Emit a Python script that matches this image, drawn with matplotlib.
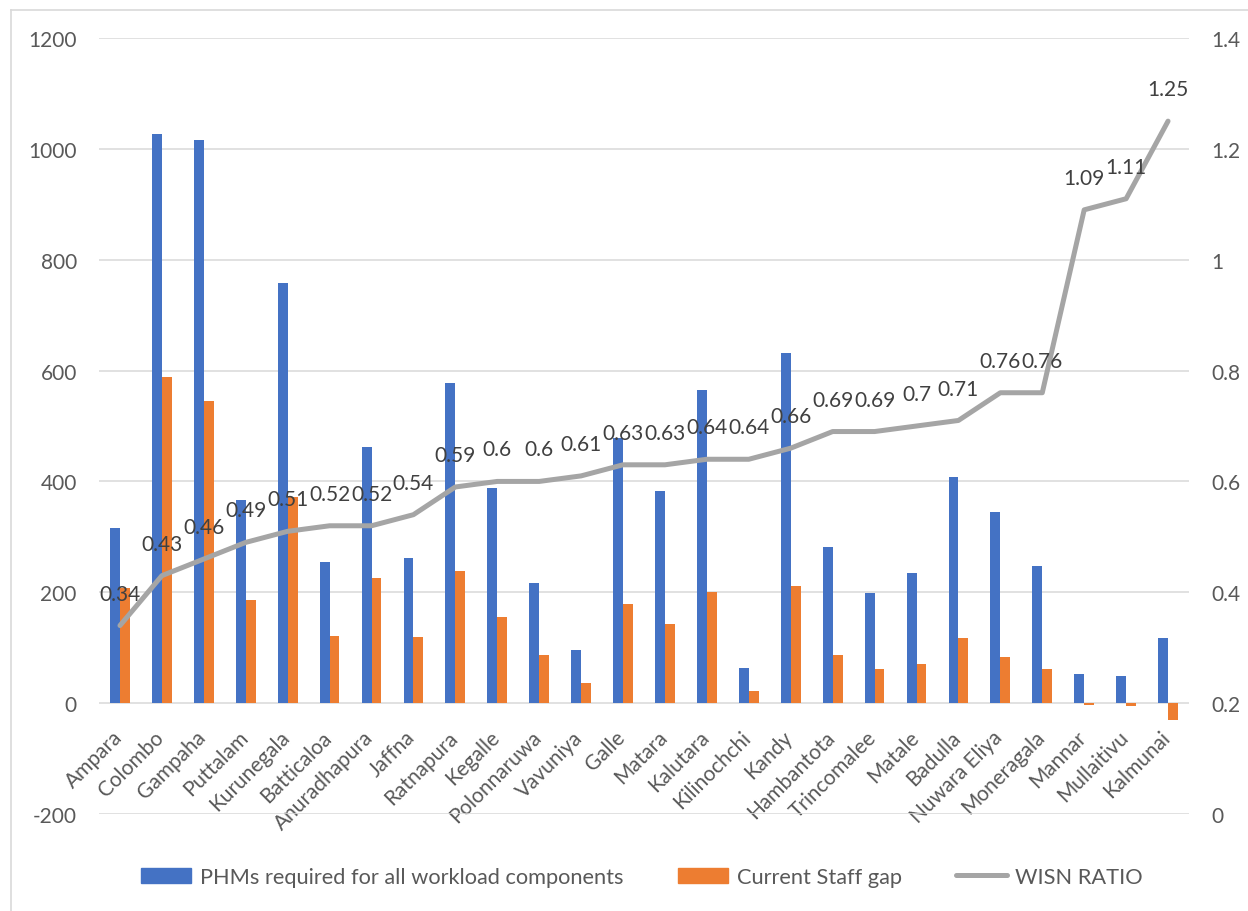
import matplotlib
matplotlib.use("Agg")
import matplotlib.pyplot as plt
from matplotlib.patches import Patch
from matplotlib.lines import Line2D
from matplotlib.transforms import ScaledTranslation
import numpy as np

districts = ["Ampara", "Colombo", "Gampaha", "Puttalam", "Kurunegala", "Batticaloa",
             "Anuradhapura", "Jaffna", "Ratnapura", "Kegalle", "Polonnaruwa", "Vavuniya",
             "Galle", "Matara", "Kalutara", "Kilinochchi", "Kandy", "Hambantota",
             "Trincomalee", "Matale", "Badulla", "Nuwara Eliya", "Moneragala", "Mannar",
             "Mullaitivu", "Kalmunai"]
phms_required = [316, 1026, 1016, 366, 758, 255, 463, 262, 578, 389, 217, 95,
                 479, 382, 565, 64, 631, 281, 199, 235, 408, 344, 248, 53, 49, 117]
staff_gap = [208, 589, 545, 186, 372, 122, 225, 120, 238, 156, 87, 36,
             178, 142, 201, 22, 211, 87, 62, 71, 117, 83, 61, -4, -5, -30]
wisn_ratio = [0.34, 0.43, 0.46, 0.49, 0.51, 0.52, 0.52, 0.54, 0.59, 0.6, 0.6, 0.61,
              0.63, 0.63, 0.64, 0.64, 0.66, 0.69, 0.69, 0.7, 0.71, 0.76, 0.76,
              1.09, 1.11, 1.25]
left_ticks = [-200, 0, 200, 400, 600, 800, 1000, 1200]
right_ticks = [0, 0.2, 0.4, 0.6, 0.8, 1.0, 1.2, 1.4]

plt.rcParams['font.family'] = ['Lato', 'DejaVu Sans']
FS = 15
BLUE = '#4472C4'
ORANGE = '#ED7D31'
GRAY = '#A5A5A5'
TICKC = '#595959'

fig = plt.figure(figsize=(12.48, 9.12), dpi=100)
ax = fig.add_axes([99/1248, 1-815/912, (1189-99)/1248, (815-39)/912])
ax2 = ax.twinx()

x = np.arange(len(districts))
w = 0.235
ax.bar(x - w/2, phms_required, w, color=BLUE, zorder=3)
ax.bar(x + w/2, staff_gap, w, color=ORANGE, zorder=3)

ax.set_xlim(-0.5, len(districts) - 0.5)
ax.set_ylim(-200, 1200)
ax.set_yticks(left_ticks)
ax.set_yticklabels([str(t) for t in left_ticks])
ax.grid(axis='y', color='#D9D9D9', linewidth=1.1, zorder=0)
ax.set_axisbelow(True)
for s in ax.spines.values():
    s.set_visible(False)
ax.spines['bottom'].set_position(('data', 0))
ax.spines['bottom'].set_visible(True)
ax.spines['bottom'].set_color('none')
ax.set_xticks(x)
ax.set_xticklabels(districts, rotation=45, ha='right', va='top')
ax.tick_params(axis='x', length=0, pad=17, labelsize=FS, labelcolor=TICKC)
ax.tick_params(axis='y', length=0, pad=16, labelsize=FS, labelcolor=TICKC)
shift = ScaledTranslation(6/100, 0, fig.dpi_scale_trans)
for lab in ax.get_xticklabels():
    lab.set_transform(lab.get_transform() + shift)

ax2.plot(x, wisn_ratio, color=GRAY, linewidth=3.6, solid_capstyle='round',
         solid_joinstyle='round', zorder=4)
ax2.set_ylim(0, 1.4)
ax2.set_yticks(right_ticks)
ax2.set_yticklabels(['{:g}'.format(t) for t in right_ticks])
ax2.tick_params(axis='y', length=0, pad=16, labelsize=FS, labelcolor=TICKC)
for s in ax2.spines.values():
    s.set_visible(False)
for xi, v in zip(x, wisn_ratio):
    ax2.annotate('{:g}'.format(v), (xi, v), xytext=(0, 23), textcoords='offset points',
                 ha='center', va='center', fontsize=FS, color='#404040', zorder=5)

handles = [Patch(color=BLUE), Patch(color=ORANGE),
           Line2D([], [], color=GRAY, linewidth=3.6, solid_capstyle='round')]
labels = ['PHMs required for all workload components', 'Current Staff gap', 'WISN RATIO']
fig.legend(handles, labels, loc='center', bbox_to_anchor=(642/1248, 1-878/912),
           ncol=3, frameon=False, fontsize=15.7, labelcolor=TICKC,
           handlelength=2.3, handleheight=0.68, handletextpad=0.4, columnspacing=2.5)

# chart border (top and left visible)
fig.add_artist(Line2D([11/1248, 11/1248], [0, 1-11/912], color='#D9D9D9', linewidth=1.2,
                      transform=fig.transFigure))
fig.add_artist(Line2D([11/1248, 1], [1-11/912, 1-11/912], color='#D9D9D9', linewidth=1.2,
                      transform=fig.transFigure))

fig.savefig('out.png', dpi=100)
